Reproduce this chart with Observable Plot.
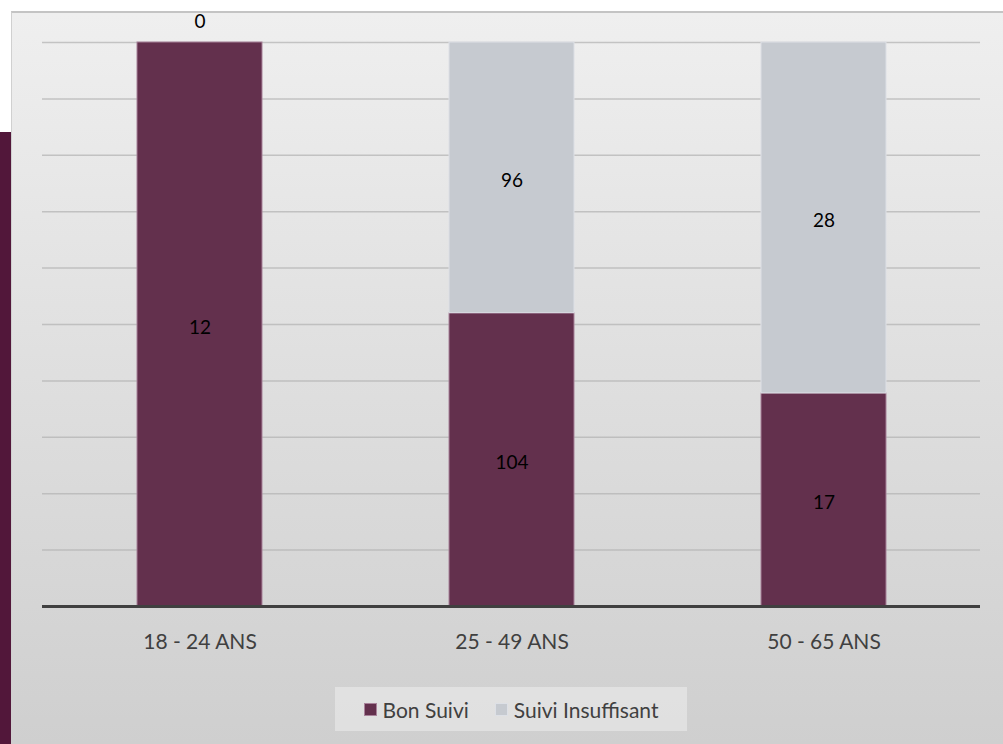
<!DOCTYPE html>
<html>
<head>
<meta charset="utf-8">
<script src="https://cdn.jsdelivr.net/npm/d3@7"></script>
<script src="https://cdn.jsdelivr.net/npm/@observablehq/plot@0.6"></script>
<style>
  html, body { margin: 0; padding: 0; background: #ffffff; }
  #wrap { position: relative; width: 1003px; height: 744px; overflow: hidden; font-family: Lato, "Open Sans", sans-serif; }
  #panel { position: absolute; left: 11px; top: 11px; width: 992px; height: 733px;
    background: linear-gradient(to bottom, #efefef 0%, #e2e2e2 40%, #cfcfcf 100%);
    border-top: 2px solid #c4c4c4; border-left: 1px solid #d0d0d0; box-sizing: border-box; }
  #strip { position: absolute; left: 0; top: 132px; width: 11px; height: 612px; background: #52173a; }
  #chart { position: absolute; left: 0; top: 0; }
  #legend { position: absolute; left: 335px; top: 687px; width: 352px; height: 44px;
    background: rgba(235,235,235,0.6); display: flex; align-items: center; justify-content: center;
    font-size: 21px; color: #404040; }
  .sw { display: inline-block; width: 13px; height: 13px; margin-right: 6px; box-sizing: border-box; }
  .item { display: inline-flex; align-items: center; margin: 0 13px; white-space: nowrap; }
</style>
</head>
<body>
<div id="wrap">
  <div id="panel"></div>
  <div id="strip"></div>
  <div id="chart"></div>
  <div id="legend"></div>
</div>
<script>
const categories = ["18 - 24 ANS", "25 - 49 ANS", "50 - 65 ANS"];
const seriesNames = ["Bon Suivi", "Suivi Insuffisant"];
const bonSuivi = [12, 104, 17];
const suiviInsuffisant = [0, 96, 28];
const colors = ["#63304d", "#c6cad0"];
const strokes = ["#a8829a", "#dde0e6"];
const yTicks = [0, 0.1, 0.2, 0.3, 0.4, 0.5, 0.6, 0.7, 0.8, 0.9, 1];

const rows = [];
categories.forEach((c, i) => rows.push({cat: c, series: seriesNames[0], value: bonSuivi[i]}));
categories.forEach((c, i) => rows.push({cat: c, series: seriesNames[1], value: suiviInsuffisant[i]}));

const stackOpts = {x: "cat", y: "value", z: "series", offset: "normalize", order: null};

const chart = Plot.plot({
  width: 1003,
  height: 680,
  marginTop: 42,
  marginBottom: 74,
  marginLeft: 42,
  marginRight: 23,
  style: {background: "transparent", fontFamily: "Lato, 'Open Sans', sans-serif", overflow: "visible"},
  x: {domain: categories, paddingInner: 0.6, paddingOuter: 0.3, label: null},
  y: {domain: [0, 1], axis: null},
  color: {domain: seriesNames, range: colors},
  marks: [
    Plot.ruleY(yTicks.slice(1), {stroke: "#b4b4b4", strokeWidth: 1.5, strokeOpacity: 0.75}),
    Plot.barY(rows, Plot.stackY({...stackOpts, fill: "series", stroke: d => strokes[seriesNames.indexOf(d.series)], strokeWidth: 1})),
    Plot.ruleY([0], {stroke: "#404040", strokeWidth: 3}),
    Plot.text(rows, Plot.stackY({...stackOpts, text: d => d.value > 0 ? String(d.value) : "", fill: "#000", fontSize: 19, dy: 3})),
    Plot.text(rows, Plot.stackY({...stackOpts, text: d => d.value === 0 ? String(d.value) : "", fill: "#000", fontSize: 19, dy: -21})),
    Plot.axisX({tickSize: 0, tickPadding: 28, fontSize: 21, fill: "#404040", label: null})
  ]
});
document.getElementById("chart").appendChild(chart);

const legend = document.getElementById("legend");
seriesNames.forEach((s, i) => {
  const it = document.createElement("span");
  it.className = "item";
  const sw = document.createElement("span");
  sw.className = "sw";
  sw.style.background = colors[i];
  sw.style.border = "1px solid " + strokes[i];
  const t = document.createElement("span");
  t.textContent = s;
  it.appendChild(sw); it.appendChild(t);
  legend.appendChild(it);
});
</script>
</body>
</html>
